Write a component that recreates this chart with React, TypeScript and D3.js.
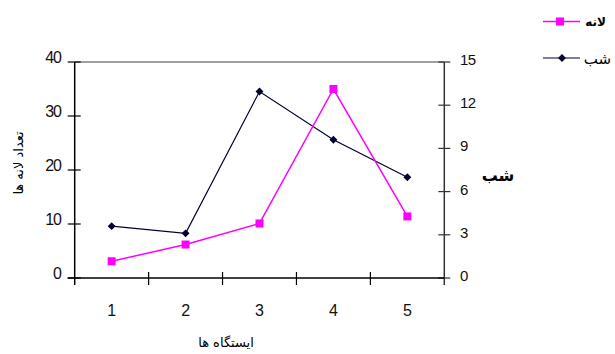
import { useMemo } from "react";
import * as d3 from "d3";

const stations = ["1", "2", "3", "4", "5"];
const nestCounts = [3.1, 6.2, 10.1, 35, 11.4];
const nightValues = [3.6, 3.1, 12.95, 9.6, 7.0];
const leftTicks = [0, 10, 20, 30, 40];
const rightTicks = [0, 3, 6, 9, 12, 15];

const nestLabel = "لانه";
const nightLabel = "شب";
const xTitle = "ایستگاه ها";
const yTitle = "تعداد لانه ها";

const W = 615;
const H = 354;
const left = 74.7;
const right = 444.3;
const top = 62;
const bottom = 278;

const NEST_COLOR = "#ff00ff";
const NIGHT_COLOR = "#000033";
const numFont = "'Liberation Sans', Arial, sans-serif";
const faFont = "'DejaVu Sans', sans-serif";

const App = () => {
  const x = useMemo(
    () => d3.scaleBand<string>().domain(stations).range([left, right]),
    []
  );
  const yLeft = useMemo(
    () => d3.scaleLinear().domain([0, 40]).range([bottom, top]),
    []
  );
  const yRight = useMemo(
    () => d3.scaleLinear().domain([0, 15]).range([bottom, top]),
    []
  );
  const cx = (s: string) => (x(s) ?? 0) + x.bandwidth() / 2;

  const nestLine = d3
    .line<number>()
    .x((_, i) => cx(stations[i]))
    .y((d) => yLeft(d));
  const nightLine = d3
    .line<number>()
    .x((_, i) => cx(stations[i]))
    .y((d) => yRight(d));

  const diamond = d3.symbol().type(d3.symbolDiamond2).size(40)();

  return (
    <svg
      width={W}
      height={H}
      style={{ position: "absolute", left: 0, top: 0, background: "#fff" }}
    >
      {/* top frame line */}
      <line x1={left} x2={right} y1={top} y2={top} stroke="#808080" strokeWidth={1.5} />

      {/* left axis */}
      <line x1={left} x2={left} y1={top} y2={bottom + 7} stroke="#000" strokeWidth={1.5} />
      {leftTicks.map((t) => (
        <g key={"l" + t}>
          <line x1={left - 7} x2={left + 6} y1={yLeft(t)} y2={yLeft(t)} stroke="#000" strokeWidth={1.2} />
          <text
            x={61}
            y={yLeft(t) + 1}
            textAnchor="end"
            fontFamily={numFont}
            fontSize={16}
            letterSpacing={-1}
            fill="#111"
          >
            {t}
          </text>
        </g>
      ))}

      {/* right axis */}
      <line x1={right} x2={right} y1={top} y2={bottom + 7} stroke="#333" strokeWidth={1.5} />
      {rightTicks.map((t) => (
        <g key={"r" + t}>
          <line x1={right - 6} x2={right + 6} y1={yRight(t)} y2={yRight(t)} stroke="#333" strokeWidth={1.2} />
          <text
            x={460}
            y={yRight(t) + 3}
            fontFamily={numFont}
            fontSize={15}
            letterSpacing={-0.5}
            fill="#111"
          >
            {t}
          </text>
        </g>
      ))}

      {/* bottom axis */}
      <line x1={left - 7} x2={right} y1={bottom} y2={bottom} stroke="#000" strokeWidth={1.5} />
      {stations.slice(1).map((s) => (
        <line
          key={"xt" + s}
          x1={x(s) ?? 0}
          x2={x(s) ?? 0}
          y1={bottom - 6}
          y2={bottom + 7}
          stroke="#000"
          strokeWidth={1.2}
        />
      ))}
      {stations.map((s) => (
        <text
          key={"xl" + s}
          x={cx(s)}
          y={316}
          textAnchor="middle"
          fontFamily={numFont}
          fontSize={16}
          fill="#111"
        >
          {s}
        </text>
      ))}

      {/* axis titles */}
      <text x={226} y={347} textAnchor="middle" fontFamily={faFont} fontSize={13} fill="#000">
        {xTitle}
      </text>
      <text
        transform="translate(23,163) rotate(-90)"
        textAnchor="middle"
        fontFamily={faFont}
        fontSize={13}
        fill="#000"
      >
        {yTitle}
      </text>
      <text x={498} y={181} textAnchor="middle" fontFamily={faFont} fontSize={16} fontWeight="bold" fill="#000">
        {nightLabel}
      </text>

      {/* series */}
      <path d={nightLine(nightValues) ?? ""} fill="none" stroke={NIGHT_COLOR} strokeWidth={1.2} />
      <path d={nestLine(nestCounts) ?? ""} fill="none" stroke={NEST_COLOR} strokeWidth={1.5} />
      {nightValues.map((v, i) => (
        <path
          key={"nd" + i}
          d={diamond ?? ""}
          transform={`translate(${cx(stations[i])},${yRight(v)})`}
          fill={NIGHT_COLOR}
        />
      ))}
      {nestCounts.map((v, i) => (
        <rect
          key={"ns" + i}
          x={cx(stations[i]) - 4}
          y={yLeft(v) - 4}
          width={8}
          height={8}
          fill={NEST_COLOR}
        />
      ))}

      {/* legend */}
      <line x1={543} x2={580} y1={21.5} y2={21.5} stroke={NEST_COLOR} strokeWidth={1.5} />
      <rect x={556} y={17.5} width={8} height={8} fill={NEST_COLOR} />
      <text x={606} y={26} textAnchor="end" fontFamily={faFont} fontSize={12} fontWeight="bold" fill="#000">
        {nestLabel}
      </text>
      <line x1={543} x2={580} y1={58} y2={58} stroke={NIGHT_COLOR} strokeWidth={1.2} />
      <path d={diamond ?? ""} transform="translate(562,58)" fill={NIGHT_COLOR} />
      <text x={611} y={64} textAnchor="end" fontFamily={faFont} fontSize={15} fill="#000">
        {nightLabel}
      </text>
    </svg>
  );
};

export default App;
